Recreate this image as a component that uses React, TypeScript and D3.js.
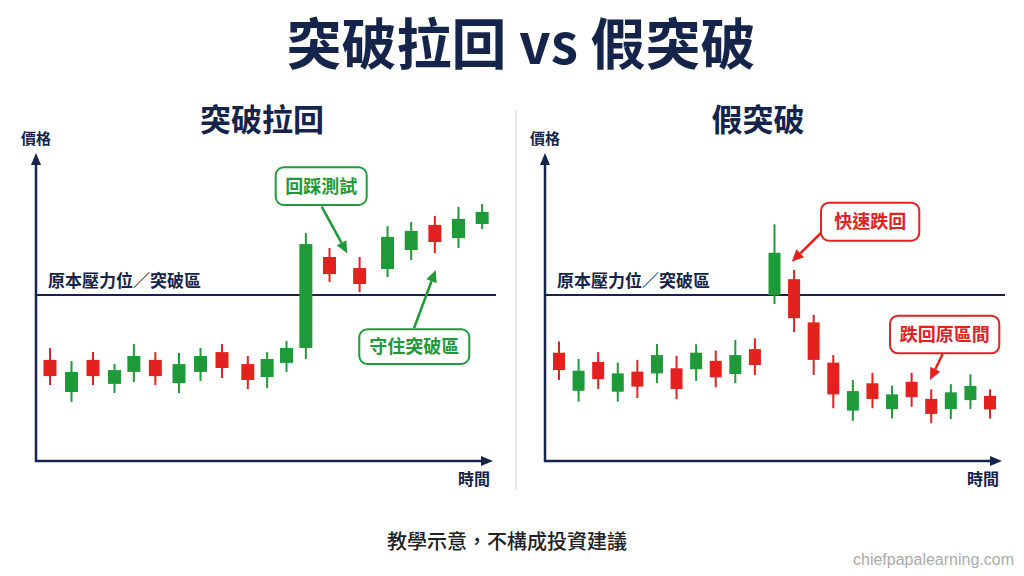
import React from "react";
import * as d3 from "d3";

// ---------- data ----------
// Left panel (突破拉回): time position, open, close, high, low (price units)
const leftTimes = [0, 1, 2, 3, 3.9, 4.9, 6, 7, 8, 9.2, 10.1, 11, 11.9, 13, 14.4, 15.7, 16.8, 17.9, 19, 20.1];
const leftOpen = [33.7, 23, 33.7, 25.7, 29.7, 33.7, 26, 29.7, 36.3, 32.3, 28, 32.7, 37.7, 68, 64.3, 64, 70.3, 78.7, 74.3, 79];
const leftClose = [28.3, 29.7, 28.3, 30.3, 35, 28.3, 32.3, 35, 31, 27, 34, 37.7, 72.3, 62.3, 59, 74.7, 76.7, 73, 80.7, 83];
const leftHigh = [37.7, 33.3, 36.3, 32.3, 39, 36.3, 36, 37.7, 39, 35, 36.3, 40, 76, 71, 68, 78.3, 79.7, 81.7, 84.7, 85.7];
const leftLow = [25.3, 19.7, 25.3, 22.7, 26.3, 25.3, 22.7, 26.7, 27.7, 24, 24.3, 29.7, 34, 59.7, 56.3, 61.3, 67, 69.3, 71, 77.3];

// Right panel (假突破): index, open, close, high, low
const rightOpen = [36.1, 23.4, 33, 23.1, 29.8, 29.2, 30.9, 30.6, 33.4, 29, 37.3, 55.3, 60.6, 46.2, 32.8, 16.8, 25.9, 17.3, 26.4, 20.7, 17.3, 20.3, 21.7];
const rightClose = [30.3, 30.1, 27.3, 29.2, 24.8, 35.3, 24, 36.1, 27.9, 35.3, 32, 69.4, 47.6, 33.7, 22.2, 23.3, 20.7, 22.2, 21.3, 15.7, 22.9, 25, 17.2];
const rightHigh = [39.8, 34, 36.3, 32.8, 33.7, 39, 35.1, 38.9, 36.8, 40.3, 40.9, 78.9, 63.7, 48.7, 35.3, 27, 29.4, 25.1, 29.4, 23.9, 25.6, 28.9, 23.9];
const rightLow = [27, 19.8, 24, 19.8, 21, 26, 20.6, 26.7, 24.6, 25.9, 28.7, 52.3, 42.9, 28.7, 17.6, 13.4, 17.6, 14.2, 18.1, 12.6, 14, 17.3, 14.2];

const resistance = 55.3;

const titleText = "突破拉回 vs 假突破";
const leftTitle = "突破拉回";
const rightTitle = "假突破";
const yLabel = "價格";
const xLabel = "時間";
const resistanceLabel = "原本壓力位／突破區";
const footer = "教學示意，不構成投資建議";
const watermark = "chiefpapalearning.com";
const leftNotes = ["回踩測試", "守住突破區"];
const rightNotes = ["快速跌回", "跌回原區間"];

// ---------- style ----------
const NAVY = "#15244a";
const RED = "#e3211f";
const GREEN = "#1f9a38";
const FONT = "'Noto Sans CJK TC', 'Noto Sans', sans-serif";

type Candle = { t: number; o: number; c: number; h: number; l: number };

const leftCandles: Candle[] = leftTimes.map((t, i) => ({ t, o: leftOpen[i], c: leftClose[i], h: leftHigh[i], l: leftLow[i] }));
const rightCandles: Candle[] = rightOpen.map((o, i) => ({ t: i, o, c: rightClose[i], h: rightHigh[i], l: rightLow[i] }));

const y = d3.scaleLinear().domain([0, 100]).range([461, 161]);
const xLeft = d3.scaleLinear().domain([0, 20]).range([50, 480]);
const xRight = d3.scaleLinear().domain([0, 22]).range([559, 990]);

function Candles({ data, x, bw }: { data: Candle[]; x: d3.ScaleLinear<number, number>; bw: number }) {
  return (
    <g>
      {data.map((d, i) => {
        const col = d.c >= d.o ? GREEN : RED;
        const cx = x(d.t);
        const top = y(Math.max(d.o, d.c));
        const bot = y(Math.min(d.o, d.c));
        return (
          <g key={i}>
            <line x1={cx} x2={cx} y1={y(d.h)} y2={y(d.l)} stroke={col} strokeWidth={2} />
            <rect x={cx - bw / 2} y={top} width={bw} height={Math.max(1, bot - top)} fill={col} />
          </g>
        );
      })}
    </g>
  );
}

function Arrow({ x1, y1, x2, y2, color }: { x1: number; y1: number; x2: number; y2: number; color: string }) {
  const ang = Math.atan2(y2 - y1, x2 - x1);
  const L = 12, W = 5.5;
  const bx = x2 - L * Math.cos(ang), by = y2 - L * Math.sin(ang);
  const px = -Math.sin(ang) * W, py = Math.cos(ang) * W;
  return (
    <g>
      <line x1={x1} y1={y1} x2={bx} y2={by} stroke={color} strokeWidth={2.5} />
      <path d={`M${x2},${y2}L${bx + px},${by + py}L${bx - px},${by - py}Z`} fill={color} />
    </g>
  );
}

function Note({ x0, y0, x1, y1, text, color }: { x0: number; y0: number; x1: number; y1: number; text: string; color: string }) {
  return (
    <g>
      <rect x={x0} y={y0} width={x1 - x0} height={y1 - y0} rx={8} fill="#fff" stroke={color} strokeWidth={2} />
      <text x={(x0 + x1) / 2} y={(y0 + y1) / 2 + 6.5} textAnchor="middle" fontSize={18} fontWeight={700} fill={color} fontFamily={FONT}>
        {text}
      </text>
    </g>
  );
}

function Frame({ x0, x1, title, titleX }: { x0: number; x1: number; title: string; titleX: number }) {
  const yTop = 153;
  const yBase = 461;
  return (
    <g>
      <text x={titleX} y={131} textAnchor="middle" fontSize={31} fontWeight={700} fill={NAVY} fontFamily={FONT}>{title}</text>
      <text x={x0} y={144} textAnchor="middle" fontSize={15} fontWeight={700} fill={NAVY} fontFamily={FONT}>{yLabel}</text>
      <line x1={x0} x2={x0} y1={yBase + 1} y2={yTop + 10} stroke={NAVY} strokeWidth={2.5} />
      <path d={`M${x0},${yTop}L${x0 - 5},${yTop + 12}L${x0 + 5},${yTop + 12}Z`} fill={NAVY} />
      <line x1={x0 - 1} x2={x1 - 10} y1={yBase} y2={yBase} stroke={NAVY} strokeWidth={2.5} />
      <path d={`M${x1},${yBase}L${x1 - 12},${yBase - 5}L${x1 - 12},${yBase + 5}Z`} fill={NAVY} />
      <text x={x1 - 3} y={485} textAnchor="end" fontSize={16} fontWeight={700} fill={NAVY} fontFamily={FONT}>{xLabel}</text>
      <line x1={x0} x2={x1 + 3} y1={y(resistance)} y2={y(resistance)} stroke={NAVY} strokeWidth={2} />
      <text x={x0 + 12} y={y(resistance) - 8} fontSize={17} fontWeight={700} fill={NAVY} fontFamily={FONT}>{resistanceLabel}</text>
    </g>
  );
}

export default function App() {
  return (
    <svg width={1024} height={576} style={{ position: "absolute", left: 0, top: 0, background: "#fff" }}>
      <rect width={1024} height={576} fill="#fff" />
      <text x={521} y={64} textAnchor="middle" fontSize={55} fontWeight={700} fill={NAVY} fontFamily={FONT}>{titleText}</text>
      <line x1={516} x2={516} y1={110} y2={490} stroke="#cfcfcf" strokeWidth={1} />

      <Frame x0={36} x1={493} title={leftTitle} titleX={262} />
      <Frame x0={545} x1={1002} title={rightTitle} titleX={758} />

      <Candles data={leftCandles} x={xLeft} bw={13} />
      <Candles data={rightCandles} x={xRight} bw={12} />

      <Arrow x1={321.7} y1={206.7} x2={347.3} y2={253.3} color={GREEN} />
      <Arrow x1={414} y1={328.3} x2={435.7} y2={270} color={GREEN} />
      <Note x0={275.7} y0={167.3} x1={366.7} y1={205} text={leftNotes[0]} color={GREEN} />
      <Note x0={359.3} y0={329.3} x1={469.3} y1={364} text={leftNotes[1]} color={GREEN} />

      <Arrow x1={822} y1={232} x2={791.7} y2={261.7} color={RED} />
      <Arrow x1={942.7} y1={354} x2={930} y2={380} color={RED} />
      <Note x0={821} y0={202.7} x1={919.3} y1={240.7} text={rightNotes[0]} color={RED} />
      <Note x0={890} y0={315.7} x1={999.3} y1={353.3} text={rightNotes[1]} color={RED} />

      <text x={507} y={549} textAnchor="middle" fontSize={20} fontWeight={500} fill="#222" fontFamily={FONT}>{footer}</text>
      <text x={1014} y={565} textAnchor="end" fontSize={16} fill="#aaa" fontFamily="'Liberation Sans', Arial, sans-serif">{watermark}</text>
    </svg>
  );
}
